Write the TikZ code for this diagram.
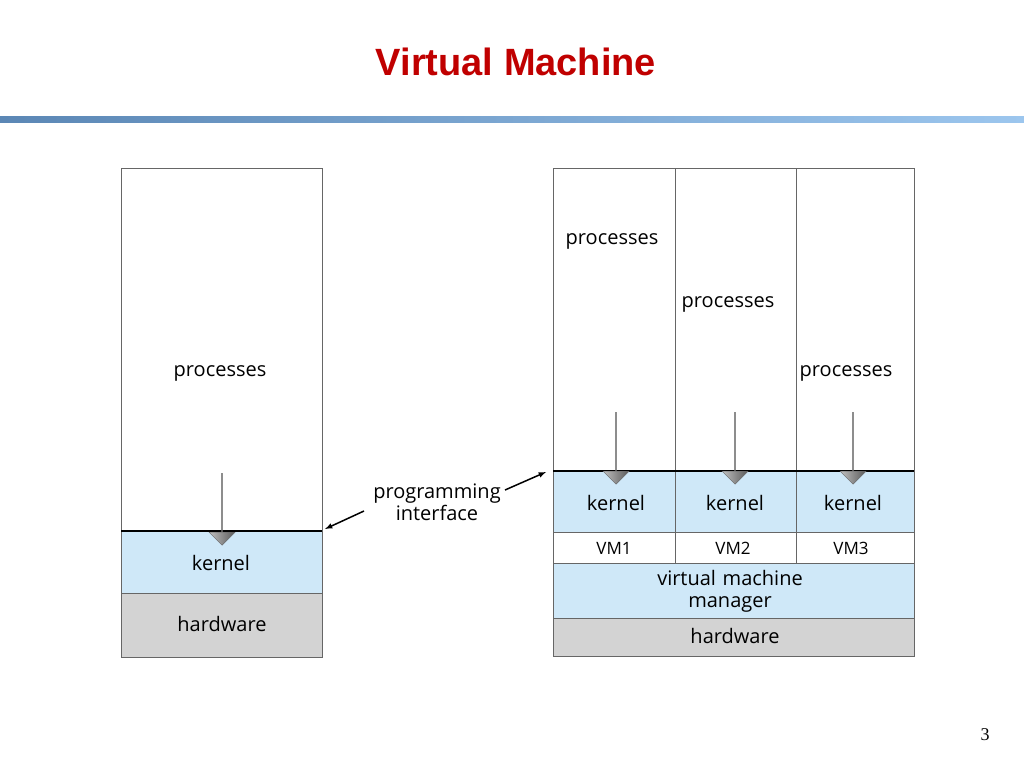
\documentclass[tikz,border=0pt]{standalone}
\usepackage{fontspec}
\setmainfont{Open Sans}
\newfontfamily\titlefont{Liberation Sans}
\newfontfamily\numfont{Liberation Serif}
\usetikzlibrary{shapes.arrows, positioning}

\definecolor{kernelblue}{HTML}{CFE8F8}
\definecolor{hwgray}{HTML}{D3D3D3}
\definecolor{titlered}{HTML}{C00000}
\definecolor{ruledark}{HTML}{5B87B5}
\definecolor{rulelight}{HTML}{9CC6EE}

\tikzset{
  layer/.style={draw=black!60, line width=0.8pt},
  lbl/.style={font=\fontsize{20}{24}\selectfont, align=center},
  downarrow/.style={single arrow, draw=black!60, left color=black!25, right color=black!65,
    shading angle=90, rotate=-90, minimum height=72pt, minimum width=26pt,
    single arrow head extend=6pt, single arrow head indent=0pt, inner sep=0pt},
}

\begin{document}
\begin{tikzpicture}[x=1pt, y=-1pt]
    \useasboundingbox (0,0) rectangle (1024,768);

    % --- Title and rule ---
    \node[font=\titlefont\bfseries\fontsize{38}{44}\selectfont, text=titlered] (title) at (516,62) {Virtual Machine};
    \shade[left color=ruledark, right color=rulelight] (0,116) rectangle (1024,122);

    % --- Left machine ---
    \draw[layer] (121,168) rectangle (322,531);
    \draw[layer, fill=kernelblue] (121,531) rectangle (322,593);
    \draw[layer, fill=hwgray] (121,593) rectangle (322,657);
    \draw[line width=1.5pt] (121,531) -- (322,531);
    \node[lbl] (lproc) at (220,373) {processes};
    \node[lbl] (lkern) at (221,563) {kernel};
    \node[lbl] (lhw) at (222,624) {hardware};
    \node[downarrow] (larr) at (222,509) {};

    % --- Right machine ---
    \draw[layer] (553,168) rectangle (914,471);
    \foreach \x in {675,796} \draw[layer] (\x,168) -- (\x,563);
    \draw[layer, fill=kernelblue] (553,471) rectangle (914,532);
    \draw[layer] (553,532) rectangle (914,563);
    \draw[layer, fill=kernelblue] (553,563) rectangle (914,618);
    \draw[layer, fill=hwgray] (553,618) rectangle (914,656);
    \foreach \x in {675,796} \draw[layer] (\x,471) -- (\x,563);
    \draw[line width=2.5pt] (553,471) -- (914,471);

    \node[lbl] (proc1) at (612,241) {processes};
    \node[lbl] (proc2) at (728,304) {processes};
    \node[lbl] (proc3) at (846,373) {processes};
    \foreach \x/\n in {616/1,735/2,853/3} {
      \node[downarrow] (arr\n) at (\x,448) {};
      \node[lbl] (kern\n) at (\x,503) {kernel};
      \node[lbl, font=\fontsize{17}{20}\selectfont] (vm\n) at (\x-2,548) {VM\n};
    }
    \node[lbl, text width=220pt] (vmm) at (730,591) {virtual machine\\[-2pt] manager};
    \node[lbl] (rhw) at (735,636) {hardware};

    % --- Programming interface ---
    \node[lbl] (api) at (437,502) {programming\\[-2pt] interface};
    \coordinate (lstart) at (364,511);
    \coordinate (lint) at (325,529);
    \coordinate (rstart) at (505,490);
    \coordinate (rint) at (546,472);
    \draw[-latex, line width=1.5pt] (lstart) -- (lint);
    \draw[-latex, line width=1.5pt] (rstart) -- (rint);

    % --- Page number ---
    \node[font=\numfont\fontsize{18}{20}\selectfont] (pnum) at (985,735) {3};
\end{tikzpicture}
\end{document}
